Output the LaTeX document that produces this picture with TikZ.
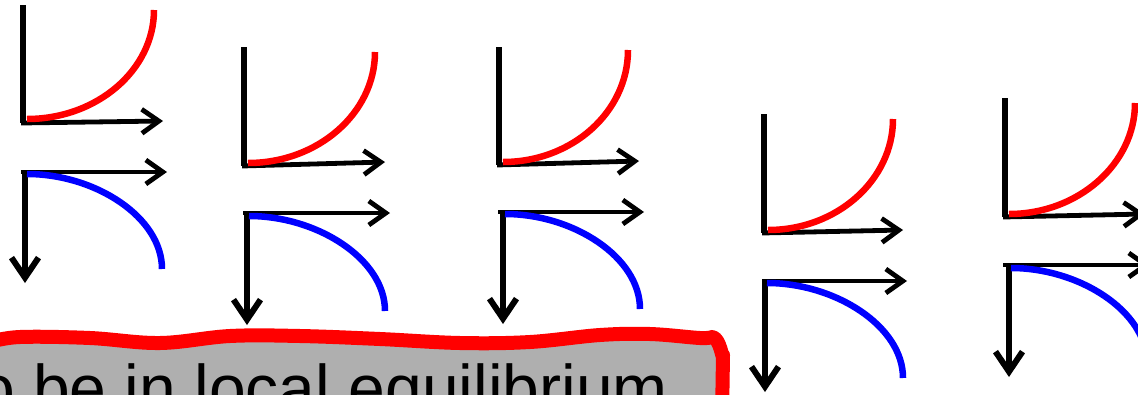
\documentclass[tikz,border=0pt]{standalone}
\usepackage{fontspec}
\usetikzlibrary{arrows.meta}
\newfontfamily\boxfont{Liberation Sans}
\definecolor{boxgray}{HTML}{AFAFAF}

\begin{document}
\begin{tikzpicture}
[
	x=1pt,
	y=-1pt,
	axis/.style={line width=6pt},
	axisarrow/.style={line width=4.8pt,-{Straight Barb[length=17pt,width=24pt]}},
	downarrow/.style={line width=6pt,-{Straight Barb[length=20pt,width=27pt]}},
	upcurve/.style={red,line width=6.5pt},
	downcurve/.style={blue,line width=6.5pt}
]

	\clip (0,0) rectangle (1138,394);

	% caption box
	\fill[boxgray] plot[smooth,tension=0.6] coordinates {(-10,342) (20,337) (90,338) (160,343) (230,336) (300,336) (380,339) (460,343) (530,342) (600,335) (650,334) (700,338) (712,337)}
	  to[out=0,in=-90] (723,355) -- (722,420) -- (-10,420) -- cycle;
	\node[anchor=base west,inner sep=0pt] (caption) at (-22,411)
	  {\boxfont\fontsize{66}{70}\selectfont o be in local equilibrium};
	\draw[red,line width=14pt,line cap=round,line join=round] plot[smooth,tension=0.6] coordinates {(-10,342) (20,337) (90,338) (160,343) (230,336) (300,336) (380,339) (460,343) (530,342) (600,335) (650,334) (700,338) (712,337)}
	  to[out=0,in=-90] (723,355) -- (722,420);

	% pair 1
	\draw[axis] (23,5) -- (23,123);
	\draw[axisarrow] (21,123) -- (163,121);
	\draw[upcurve] (27,119) .. controls (97,119) and (154,70) .. (154,10);
	\draw[axisarrow] (21,172) -- (167,172);
	\draw[downarrow] (25,172) -- (25,283);
	\draw[downcurve] (27,174) .. controls (95,174) and (162,217) .. (162,269);

	% pair 2
	\draw[axis] (244,47) -- (244,166);
	\draw[axisarrow] (242,166) -- (385,162);
	\draw[upcurve] (248,163) .. controls (318,163) and (375,113) .. (375,52);
	\draw[axisarrow] (243,213) -- (390,213);
	\draw[downarrow] (247,213) -- (247,325);
	\draw[downcurve] (249,216) .. controls (317,216) and (385,259) .. (385,311);

	% pair 3
	\draw[axis] (499,47) -- (499,165);
	\draw[axisarrow] (497,165) -- (639,161);
	\draw[upcurve] (503,162) .. controls (572,162) and (628,112) .. (628,50);
	\draw[axisarrow] (498,212) -- (644,212);
	\draw[downarrow] (503,212) -- (503,324);
	\draw[downcurve] (505,214) .. controls (573,214) and (640,257) .. (640,309);

	% pair 4
	\draw[axis] (764,114) -- (764,233);
	\draw[axisarrow] (762,233) -- (903,230);
	\draw[upcurve] (768,230) .. controls (837,230) and (893,180) .. (893,119);
	\draw[axisarrow] (762,281) -- (907,281);
	\draw[downarrow] (765,281) -- (765,392);
	\draw[downcurve] (767,283) .. controls (835,283) and (903,326) .. (903,378);

	% pair 5
	\draw[axis] (1005,98) -- (1005,217);
	\draw[axisarrow] (1003,217) -- (1145,214);
	\draw[upcurve] (1009,214) .. controls (1078,214) and (1135,164) .. (1135,103);
	\draw[axisarrow] (1003,265) -- (1150,265);
	\draw[downarrow] (1009,265) -- (1009,377);
	\draw[downcurve] (1011,268) .. controls (1079,268) and (1147,311) .. (1147,363);

\end{tikzpicture}
\end{document}
